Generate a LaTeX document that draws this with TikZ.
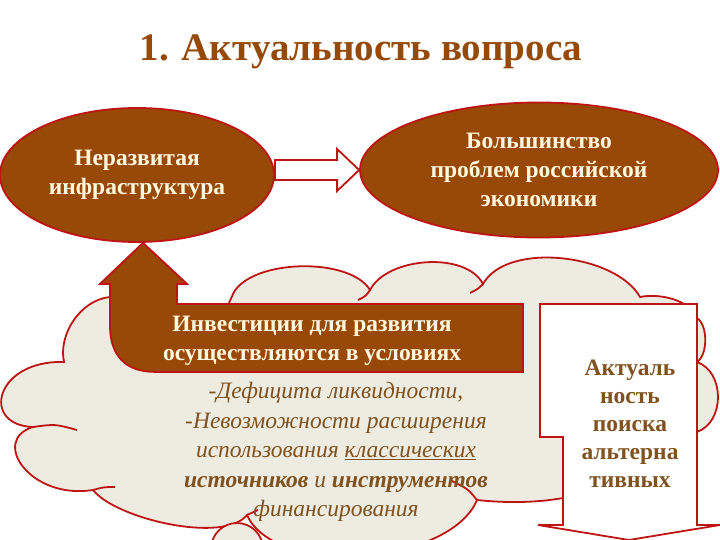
\documentclass[tikz,border=0pt]{standalone}
\usepackage{fontspec}
\setmainfont{Liberation Serif}
\usetikzlibrary{shapes.geometric,calc}
\definecolor{brownfill}{RGB}{152,72,7}
\definecolor{redline}{RGB}{190,20,20}
\definecolor{cloudfill}{RGB}{238,236,225}
\definecolor{cream}{RGB}{255,248,222}
\definecolor{titlebrown}{RGB}{150,74,10}
\definecolor{textbrown}{RGB}{128,82,32}
\begin{document}
\begin{tikzpicture}[x=1pt,y=-1pt,
  outl/.style={draw=redline,line width=1.8pt,line join=miter},
  ell/.style={ellipse,outl,fill=brownfill,text=cream,align=center,inner sep=0pt,
     font=\fontsize{23.5}{29}\selectfont\bfseries},
  cloudline/.style={draw=redline,line width=1.8pt},
  lbl/.style={align=center,inner sep=0pt}]
\useasboundingbox (0,0) rectangle (720,540);
\fill[white] (0,0) rectangle (720,540);

% title
\node[lbl,text=titlebrown,font=\fontsize{39}{44}\selectfont\bfseries] (title) at (361,52) {1. Актуальность вопроса};

% cloud
\path[cloudline,fill=cloudfill] (110,297) -- (180,330) -- (228,305) -- (234,292)
 .. controls (254,259) and (350,257) .. (370,290)
 .. controls (387,257) and (466,251) .. (483,284)
 .. controls (507,241) and (616,254) .. (640,297)
 .. controls (660,293) and (690,300) .. (697,318)
 .. controls (708,325) and (708,355) .. (697,362)
 .. controls (725,372) and (725,422) .. (697,432)
 -- (660,480) -- (600,497) -- (563,498)
 .. controls (535,503) and (505,503) .. (477,500)
 .. controls (450,565) and (275,578) .. (247,515)
 .. controls (224,544) and (116,519) .. (93,490)
 .. controls (30,500) and (-10,440) .. (33,427)
 .. controls (-20,425) and (-5,360) .. (64,362)
 .. controls (58,335) and (80,300) .. (110,297) -- cycle;
\draw[cloudline] (370,290) .. controls (366,296) .. (358,300);
\draw[cloudline] (483,284) .. controls (478,289) .. (470,293);
\draw[cloudline] (33,427) .. controls (55,424) .. (77,430);
\draw[cloudline] (93,490) .. controls (104,487) .. (115,487);
\draw[cloudline] (477,500) .. controls (468,489) .. (452,481);
\draw[cloudline] (247,515) .. controls (252,512) .. (258,510);
\draw[cloudline,fill=cloudfill] (237,549) circle[radius=26];

% ellipses
\node[ell,minimum width=274pt,minimum height=134pt] (L) at (137,175) {Неразвитая\\инфраструктура};
\node[ell,minimum width=358pt,minimum height=135pt] (R) at (539,170) {Большинство\\проблем российской\\экономики};

% right block arrow from L to R
\coordinate (a0) at (L.east |- R.west);
\path[outl,fill=white] ($(a0)+(0,-10)$) -- ($(R.west)+(-22,-10)$) -- ($(R.west)+(-22,-21)$)
  -- (R.west) -- ($(R.west)+(-22,21)$) -- ($(R.west)+(-22,10)$) -- ($(a0)+(0,10)$) -- cycle;

% bent up arrow into L
\coordinate (tip) at ($(L.south)+(6,0)$);
\path[outl,fill=brownfill] (tip) -- ($(tip)+(44,41)$) -- ($(tip)+(34,41)$) -- ($(tip)+(34,61)$)
  -- ($(tip)+(380,61)$) -- ($(tip)+(380,129)$) -- ($(tip)+(12,129)$)
  .. controls ($(tip)+(-18,129)$) and ($(tip)+(-33,112)$) .. ($(tip)+(-33,83)$)
  -- ($(tip)+(-33,41)$) -- ($(tip)+(-43,41)$) -- cycle;
\node[lbl,text=cream,font=\fontsize{23.5}{29}\selectfont\bfseries] (bar) at (312,341)
  {Инвестиции для развития\\осуществляются в условиях};

% italic text
\node[lbl,text=textbrown,font=\fontsize{23.5}{29.5}\selectfont\itshape] (cond) at (336,452)
  {-Дефицита ликвидности,\\-Невозможности расширения\\использования \underline{классических}\\
   \textbf{источников} и \textbf{инструментов}\\финансирования};

% down arrow callout
\path[outl,fill=white] (540,304) -- (697,304) -- (697,525) -- (720,525) -- (629,540)
  -- (538,525) -- (563,525) -- (563,437) -- (540,437) -- cycle;
\node[lbl,text=textbrown,font=\fontsize{23.5}{28}\selectfont\bfseries] (box) at (630,424)
  {Актуаль\\ность\\поиска\\альтерна\\тивных};
\end{tikzpicture}
\end{document}
